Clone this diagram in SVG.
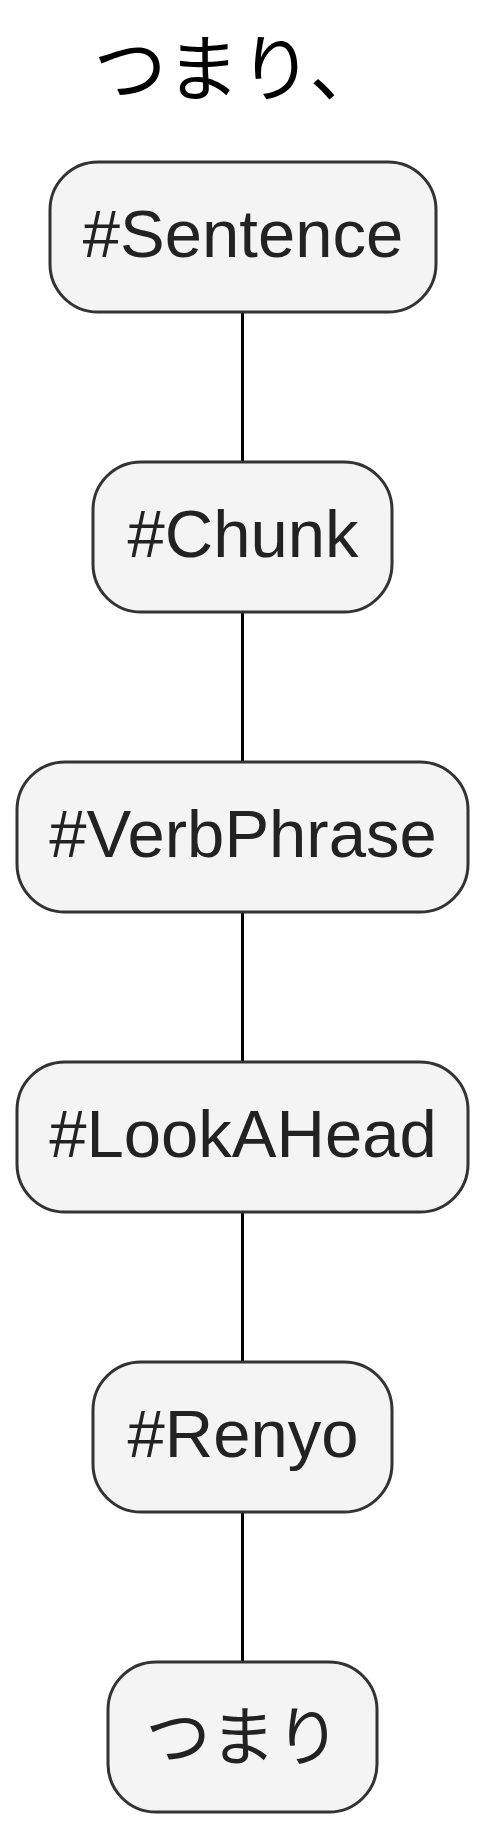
<svg xmlns="http://www.w3.org/2000/svg" width="485" height="1829" viewBox="0 0 485 1829">
<style>
.node rect{fill:#f4f4f4;stroke:#333333;stroke-width:3}
.node text{font-family:"Liberation Sans","Noto Sans CJK JP",Arial,sans-serif;font-size:67px;fill:#222222;text-anchor:middle}
.node text.jp{font-family:"Noto Sans CJK JP",sans-serif;font-size:65px}
.title{font-family:"Noto Sans CJK JP",serif;font-size:73px;fill:#000000;text-anchor:middle}
#connectors line{stroke:#000000;stroke-width:3}
</style>
<rect width="485" height="1829" fill="#ffffff"/>
<text class="title" x="238" y="95">つまり、</text>
<g id="connectors">
<line x1="242.5" y1="312" x2="242.5" y2="462"/>
<line x1="242.5" y1="612" x2="242.5" y2="762"/>
<line x1="242.5" y1="912" x2="242.5" y2="1062"/>
<line x1="242.5" y1="1212" x2="242.5" y2="1362"/>
<line x1="242.5" y1="1512" x2="242.5" y2="1662"/>
</g>
<g id="n-sentence" class="node"><rect x="50" y="162" width="386" height="150" rx="48"/><text x="243" y="257">#Sentence</text></g>
<g id="n-chunk" class="node"><rect x="93" y="462" width="299" height="150" rx="48"/><text x="243" y="557">#Chunk</text></g>
<g id="n-verbphrase" class="node"><rect x="17" y="762" width="451" height="150" rx="48"/><text x="243" y="857">#VerbPhrase</text></g>
<g id="n-lookahead" class="node"><rect x="17" y="1062" width="451" height="150" rx="48"/><text x="243" y="1157">#LookAHead</text></g>
<g id="n-renyo" class="node"><rect x="93" y="1362" width="299" height="150" rx="48"/><text x="243" y="1457">#Renyo</text></g>
<g id="n-tsumari" class="node"><rect x="108" y="1662" width="269" height="150" rx="48"/><text class="jp" x="243" y="1760">つまり</text></g>
</svg>
